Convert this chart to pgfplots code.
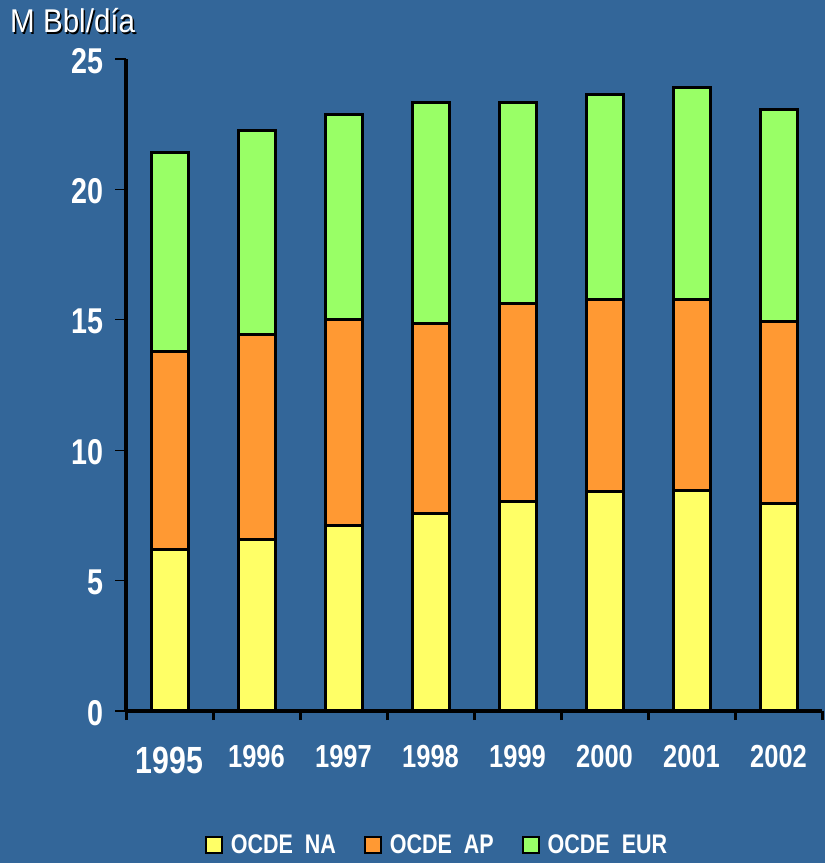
\documentclass[border=0pt]{standalone}
\usepackage{pgfplots}
\usepackage{pgfplotstable}
\pgfplotsset{compat=1.18}
\usepackage{fontspec}
\setmainfont{Liberation Sans}
\newfontfamily\narrow{Liberation Sans}[FakeStretch=0.8]
\newfontfamily\semi{Liberation Sans}[FakeStretch=0.9]
\definecolor{bg}{HTML}{336699}
\definecolor{cna}{HTML}{FFFF66}
\definecolor{cap}{HTML}{FF9933}
\definecolor{ceu}{HTML}{99FF66}
\pgfplotstableread{
x na ap eu
0 6.21 7.56 7.66
1 6.56 7.86 7.82
2 7.13 7.90 7.86
3 7.59 7.25 8.51
4 8.05 7.56 7.74
5 8.40 7.36 7.86
6 8.47 7.29 8.13
7 7.94 7.01 8.13
}\data
\begin{document}
\begin{tikzpicture}[x=1bp,y=1bp]
\fill[bg] (0,0) rectangle (825,863);
\begin{axis}[
  at={(126bp,152bp)}, anchor=south west,
  scale only axis, width=696bp, height=652bp,
  xmin=-0.5, xmax=7.5, ymin=0, ymax=25,
  ybar stacked, bar width=37bp,
  axis lines=left,
  axis line style={-, line width=3.5bp, black},
  tick align=outside,
  major tick length=11bp,
  ytick={0,5,...,25},
  ytick style={black, line width=1.2bp},
  /pgf/number format/assume math mode=true,
  yticklabel style={font=\narrow\bfseries\fontsize{36}{36}\selectfont, text=white, inner sep=1bp, xshift=-10bp, yshift=-2bp},
  xtick={0,...,7},
  xticklabels={{\raisebox{-6bp}{\fontsize{38}{38}\selectfont 1995}},1996,1997,1998,1999,2000,2001,2002},
  xtick style={draw=none},
  xticklabel style={font=\narrow\bfseries\fontsize{32}{32}\selectfont, text=white, anchor=base, yshift=-45bp},
  extra x ticks={-0.5,0.5,...,7.5},
  extra x tick labels={},
  extra x tick style={xtick style={draw=black, line width=3bp}, major tick length=9bp},
  legend style={at={(0.447,-0.2055)}, anchor=center, legend columns=3, draw=none, fill=none,
    text=white, font=\narrow\bfseries\fontsize{27}{27}\selectfont,
    /tikz/every even column/.append style={column sep=26bp},
    /tikz/every odd column/.append style={column sep=6bp}},
  legend image code/.code={\draw[#1, draw=black, line width=1.8bp] (0bp,-8bp) rectangle (16bp,8bp);},
  every axis plot/.append style={draw=black, line width=3bp},
]
\addplot[fill=cna] table[x=x,y=na]{\data};
\addplot[fill=cap] table[x=x,y=ap]{\data};
\addplot[fill=ceu] table[x=x,y=eu]{\data};
\legend{OCDE~~NA,OCDE~~AP,OCDE~~EUR}
\end{axis}
\node[anchor=base west, inner sep=0, text=black, font=\semi\fontsize{33}{33}\selectfont] at (11.5,828.5) {M Bbl/día};
\node[anchor=base west, inner sep=0, text=white, font=\semi\fontsize{33}{33}\selectfont] at (10,830) {M Bbl/día};
\end{tikzpicture}
\end{document}
